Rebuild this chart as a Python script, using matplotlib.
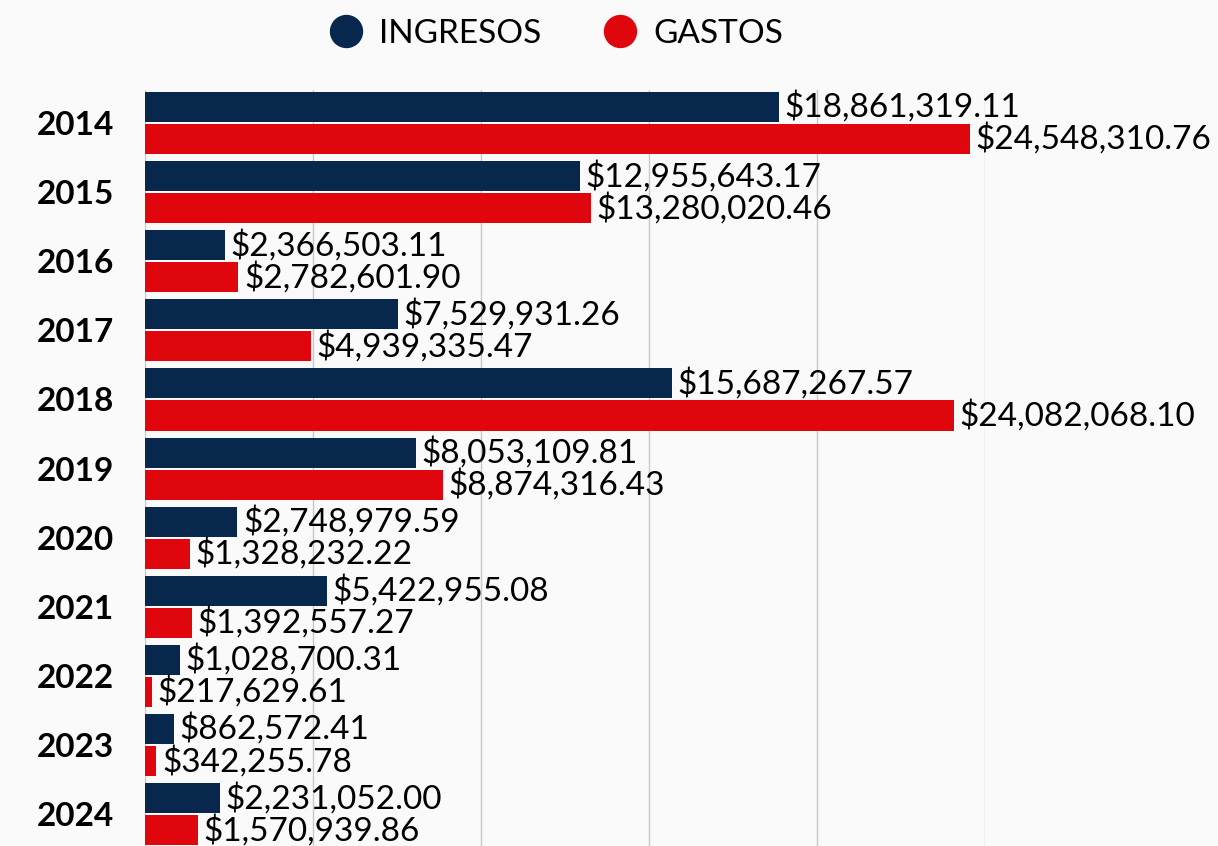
import numpy as np
import matplotlib.pyplot as plt
from matplotlib.lines import Line2D

years = ["2014", "2015", "2016", "2017", "2018", "2019", "2020", "2021", "2022", "2023", "2024"]
ingresos = [18861319.11, 12955643.17, 2366503.11, 7529931.26, 15687267.57, 8053109.81,
            2748979.59, 5422955.08, 1028700.31, 862572.41, 2231052.00]
gastos = [24548310.76, 13280020.46, 2782601.90, 4939335.47, 24082068.10, 8874316.43,
          1328232.22, 1392557.27, 217629.61, 342255.78, 1570939.86]

navy = "#08274d"
red = "#e0060d"
plt.rcParams["font.family"] = ["Lato", "DejaVu Sans"]

fig = plt.figure(figsize=(12.18, 8.46), dpi=100, facecolor="#fafafa")
ax = fig.add_axes([145 / 1218, 0.0, 840 / 1218, 1 - 90 / 846])
ax.set_facecolor("none")

y = np.arange(len(years))
h = 0.435
off = 0.232
ax.barh(y - off, ingresos, height=h, color=navy, zorder=3)
ax.barh(y + off, gastos, height=h, color=red, zorder=3)

for i in range(len(years)):
    ax.annotate("${:,.2f}".format(ingresos[i]), (ingresos[i], y[i] - off), xytext=(4, 0),
                textcoords="offset points", va="center", ha="left", fontsize=24,
                annotation_clip=False, zorder=4)
    ax.annotate("${:,.2f}".format(gastos[i]), (gastos[i], y[i] + off), xytext=(4, 0),
                textcoords="offset points", va="center", ha="left", fontsize=24,
                annotation_clip=False, zorder=4)

ax.set_xlim(0, 25000000)
ax.set_ylim(10.46, -0.477)
ax.set_xticks(np.arange(0, 25000001, 5000000))
ax.tick_params(axis="x", bottom=False, labelbottom=False)
ax.set_yticks(y)
ax.set_yticklabels(years, fontsize=24, fontweight="bold")
ax.tick_params(axis="y", left=False, pad=19)
ax.grid(axis="x", color="#c8c8c8", linewidth=1, zorder=0)
for s in ax.spines.values():
    s.set_visible(False)

handles = [Line2D([], [], marker="o", ls="", color=navy, markersize=23),
           Line2D([], [], marker="o", ls="", color=red, markersize=23)]
fig.legend(handles, ["INGRESOS", "GASTOS"], loc="upper center", bbox_to_anchor=(0.453, 1.013),
           ncol=2, frameon=False, fontsize=24, columnspacing=1.6, handletextpad=0.25,
           handlelength=1.5)

fig.savefig("out.png", dpi=100, facecolor=fig.get_facecolor())
